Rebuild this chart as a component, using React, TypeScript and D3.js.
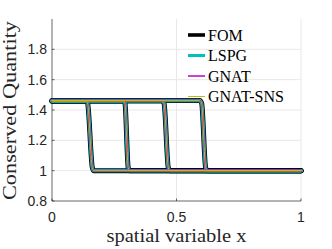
import React from "react";
import * as d3 from "d3";

// Snapshot profiles (x, conserved quantity)
const snapshot1: [number, number][] = [[0, 1.46], [0.137, 1.46], [0.143, 1.445], [0.162, 1.02], [0.168, 1.0], [1, 1.0]];
const snapshot2: [number, number][] = [[0, 1.46], [0.287, 1.46], [0.293, 1.445], [0.306, 1.02], [0.312, 1.0], [1, 1.0]];
const snapshot3: [number, number][] = [[0, 1.46], [0.444, 1.46], [0.450, 1.445], [0.467, 1.02], [0.473, 1.0], [1, 1.0]];
const snapshot4: [number, number][] = [[0, 1.463], [0.593, 1.463], [0.601, 1.445], [0.617, 1.02], [0.624, 1.0], [1, 1.0]];
const snapshots = [snapshot1, snapshot2, snapshot3, snapshot4];

const seriesNames = ["FOM", "LSPG", "GNAT", "GNAT-SNS"];
const seriesColors = ["#000000", "#00BFBF", "#BF00BF", "#BFBF00"];
const seriesWidths = [5, 3.4, 1.8, 1];
const legendWidths = [3.6, 3, 1.5, 1];

const yTicks = [0.8, 1, 1.2, 1.4, 1.6, 1.8];
const xTicks = [0, 0.5, 1];

export default function App() {
  const x = d3.scaleLinear().domain([0, 1]).range([52, 301]);
  const y = d3.scaleLinear().domain([0.8, 2.0]).range([201, 19]);
  const line = d3
    .line<[number, number]>()
    .x((d) => x(d[0]))
    .y((d) => y(d[1]))
    .curve(d3.curveMonotoneX);

  const sans = "'Liberation Sans', Arial, sans-serif";
  const serif = "'Liberation Serif', 'Times New Roman', serif";

  return (
    <svg
      width={332}
      height={249}
      style={{ position: "absolute", left: 0, top: 0, background: "#fff" }}
    >
      {/* grid */}
      {yTicks.slice(1).map((t) => (
        <line key={"gy" + t} x1={x(0)} x2={x(1)} y1={y(t)} y2={y(t)} stroke="#e8e8e8" strokeWidth={1} />
      ))}
      {xTicks.slice(1).map((t) => (
        <line key={"gx" + t} x1={x(t)} x2={x(t)} y1={y(2)} y2={y(0.8)} stroke="#e8e8e8" strokeWidth={1} />
      ))}
      {/* axes */}
      <line x1={x(0)} x2={x(0)} y1={y(2)} y2={y(0.8)} stroke="#262626" strokeWidth={0.7} />
      <line x1={x(0)} x2={x(1)} y1={y(0.8)} y2={y(0.8)} stroke="#262626" strokeWidth={0.7} />
      {yTicks.map((t) => (
        <g key={"ty" + t}>
          <line x1={x(0)} x2={x(0) + 2.5} y1={y(t)} y2={y(t)} stroke="#262626" strokeWidth={0.7} />
          <text x={47} y={y(t) + 5} textAnchor="end" fontFamily={sans} fontSize={14} fill="#262626">
            {String(t)}
          </text>
        </g>
      ))}
      {xTicks.map((t) => (
        <g key={"tx" + t}>
          <line x1={x(t)} x2={x(t)} y1={y(0.8)} y2={y(0.8) - 2.5} stroke="#262626" strokeWidth={0.7} />
          <text x={x(t)} y={222} textAnchor="middle" fontFamily={sans} fontSize={14} fill="#262626">
            {String(t)}
          </text>
        </g>
      ))}
      {/* series */}
      {seriesNames.map((name, i) => (
        <g key={name}>
          {snapshots.map((s, j) => (
            <path
              key={j}
              d={line(s) || ""}
              fill="none"
              stroke={seriesColors[i]}
              strokeWidth={seriesWidths[i]}
              strokeLinejoin="round"
              strokeLinecap="round"
            />
          ))}
        </g>
      ))}
      {/* legend */}
      {seriesNames.map((name, i) => {
        const cy = 35 + i * 20.5;
        return (
          <g key={"lg" + name}>
            <line x1={188} x2={205} y1={cy} y2={cy} stroke={seriesColors[i]} strokeWidth={legendWidths[i]} />
            <text x={208} y={cy + 5.5} fontFamily={serif} fontSize={16} fill="#000">
              {name}
            </text>
          </g>
        );
      })}
      {/* labels */}
      <text
        x={176.5}
        y={241.5}
        textAnchor="middle"
        fontFamily={serif}
        fontSize={18}
        textLength={140}
        lengthAdjust="spacingAndGlyphs"
        fill="#262626"
      >
        spatial variable x
      </text>
      <text
        transform="translate(16,110.5) rotate(-90)"
        textAnchor="middle"
        fontFamily={serif}
        fontSize={18}
        textLength={179}
        lengthAdjust="spacingAndGlyphs"
        fill="#262626"
      >
        Conserved Quantity
      </text>
    </svg>
  );
}
